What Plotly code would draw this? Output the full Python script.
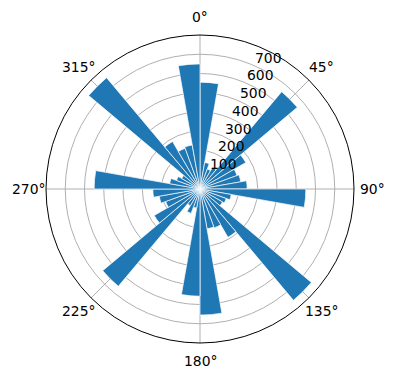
import math
import plotly.graph_objects as go

# bin start angles (degrees) and counts per 10° bin
bin_starts = list(range(0, 360, 10))
counts = [555, 140, 110, 130, 660, 275, 205, 215, 245,
          550, 165, 145, 135, 755, 290, 215, 210, 655,
          557, 100, 135, 100, 660, 275, 190, 215, 245,
          550, 160, 130, 110, 755, 285, 225, 232, 650]
bin_width = 10
r_ticks = [100, 200, 300, 400, 500, 600, 700]
theta_ticks = [0, 45, 90, 135, 180, 225, 270, 315]
r_max = 800

centers = [b + bin_width / 2 for b in bin_starts]

fig = go.Figure()
fig.add_trace(go.Barpolar(
    r=counts,
    theta=centers,
    width=[bin_width] * len(counts),
    marker=dict(color="#1f77b4", line=dict(color="white", width=0.7)),
    opacity=1,
))

W, H = 396, 380
cx, cy, R = 200, 189, 154
FS = 13.9

annotations = []
# radial tick labels, horizontal, placed along the 22.5° direction
for v in r_ticks:
    rr = v / r_max * R
    a = math.radians(22.5)
    px = cx + rr * math.sin(a)
    py = cy - rr * math.cos(a)
    annotations.append(dict(
        x=px / W, y=1 - py / H, xref="paper", yref="paper",
        text=str(v), showarrow=False, xanchor="left", yanchor="bottom",
        xshift=1, yshift=-3, font=dict(size=FS, color="black"),
    ))
# angular tick labels outside the circle
for t in theta_ticks:
    a = math.radians(t)
    rr = R + 18
    px = cx + rr * math.sin(a)
    py = cy - rr * math.cos(a)
    annotations.append(dict(
        x=px / W, y=1 - py / H, xref="paper", yref="paper",
        text=f"{t}°", showarrow=False, xanchor="center", yanchor="middle",
        font=dict(size=FS, color="black"),
    ))

fig.update_layout(
    width=W, height=H,
    margin=dict(l=0, r=0, t=0, b=0),
    paper_bgcolor="white",
    showlegend=False,
    font=dict(family="DejaVu Sans", size=FS, color="black"),
    annotations=annotations,
    polar=dict(
        domain=dict(x=[(cx - R) / W, (cx + R) / W],
                    y=[(H - cy - R) / H, (H - cy + R) / H]),
        bgcolor="white",
        bargap=0,
        angularaxis=dict(
            rotation=90, direction="clockwise",
            tickmode="array", tickvals=theta_ticks,
            showticklabels=False,
            ticks="", showline=True, linecolor="black", linewidth=1,
            showgrid=True, gridcolor="#b0b0b0", gridwidth=0.8,
            layer="above traces",
        ),
        radialaxis=dict(
            range=[0, r_max], tickmode="array", tickvals=r_ticks,
            showticklabels=False,
            angle=67.5,
            ticks="", showline=False,
            showgrid=True, gridcolor="#b0b0b0", gridwidth=0.8,
            layer="above traces",
        ),
    ),
)
fig.write_html("out.html")
